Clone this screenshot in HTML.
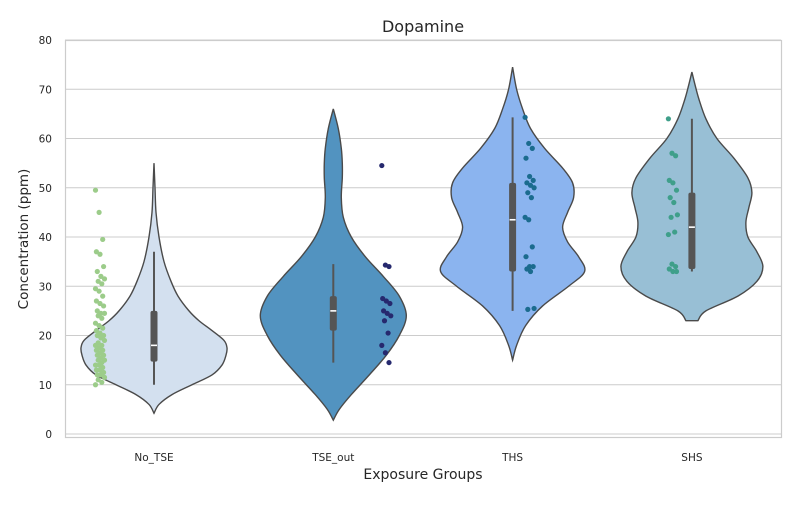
<!DOCTYPE html>
<html><head><meta charset="utf-8">
<style>
body{margin:0;background:#fff;font-family:"Liberation Sans","DejaVu Sans",sans-serif;}
svg text{font-family:"DejaVu Sans","Liberation Sans",sans-serif;}
</style></head>
<body>
<svg id="chart" width="800" height="500" viewBox="0 0 800 500" xmlns="http://www.w3.org/2000/svg">
<rect x="0" y="0" width="800" height="500" fill="#fff"/>
<g id="grid"></g>
<g id="violins"></g>
<rect x="65.5" y="40.5" width="716" height="397" fill="none" stroke="#cccccc" stroke-width="1.2"/>
<g id="yticks"></g>
<g id="xticks"></g>
<text x="423" y="32" font-size="16" text-anchor="middle" fill="#262626">Dopamine</text>
<text x="423" y="479" font-size="14" text-anchor="middle" fill="#262626">Exposure Groups</text>
<text x="28" y="239" font-size="13.5" text-anchor="middle" fill="#262626" transform="rotate(-90 28 239)">Concentration (ppm)</text>
</svg>
<script>
const categories = ["No_TSE","TSE_out","THS","SHS"];
const yTicks = [0,10,20,30,40,50,60,70,80];
const fills = ["#d3e0ef","#5293c0","#8bb4ef","#98bfd5"];
const pointColors = ["#9ccc8a","#26296e","#1b6b8e","#3f9f8a"];
// violin density profiles: [value, half-width]
const profNoTSE = [[4.2,0],[6,5],[8,18],[10,38],[12,58],[14,68],[16,72],[17.5,73],[19,70],[21,58],[23,45],[25,35],[28,24],[31,17],[35,10],[40,5],[45,2],[50,1],[55,0]];
const profTSE = [[2.8,0],[5,6],[8,18],[12,36],[16,53],[20,66],[24,73],[28,66],[32,50],[36,32],[40,18],[44,10],[48,8],[52,9],[55,9],[58,8],[62,5],[66,0]];
const profTHS = [[15,0],[18,4],[22,13],[26,30],[30,56],[33,72],[36,66],[39,55],[42,50],[45,55],[48,61],[51,60],[54,50],[58,32],[62,18],[66,10],[70,4],[74.5,0]];
const profSHS = [[23,6],[25,14],[28,46],[31,65],[34,71],[37,65],[40,56],[43,54],[46,57],[49,60],[52,56],[56,42],[60,25],[64,14],[68,7],[71,3],[73.5,0]];
const profiles = [profNoTSE,profTSE,profTHS,profSHS];
// box stats: whiskerLow, q1, median, q3, whiskerHigh
const boxNoTSE = [10,14.7,18,25,37];
const boxTSE = [14.5,21,25,28,34.5];
const boxTHS = [25,33,43.5,51,64.3];
const boxSHS = [33,33.5,42,49,64];
const boxes = [boxNoTSE,boxTSE,boxTHS,boxSHS];
const ptsNoTSE = [49.5,45,39.5,37,36.5,34,33,32,31.5,31,30.5,29.5,29,28,27,26.5,26,25,24.5,24.5,24,23.5,22.5,22,21.5,21,20.5,20,20,19.5,19,18.5,18,18,17.5,17,17,16.5,16,16,15.5,15,15,14.5,14,14,13.5,13,13,12.5,12,12,11.5,11,10.5,10];
const ptsTSE = [54.5,34.3,34,27.5,27,26.5,25,24.5,24,23,20.5,18,16.5,14.5];
const ptsTHS = [64.3,59,58,56,52.3,51.5,51,50.5,50,49,48,44,43.5,38,36,34,34,33.5,33,25.5,25.3];
const ptsSHS = [64,57,56.5,51.5,51,49.5,48,47,44.5,44,41,40.5,34.5,34,33.5,33,33];
const points = [ptsNoTSE,ptsTSE,ptsTHS,ptsSHS];

const NS="http://www.w3.org/2000/svg";
const yS = v => 434 - v*4.925;
const xS = i => 154 + i*179.3;
const ptOffset = [-54,53,17,-19];
function mk(tag,attrs,parent){const e=document.createElementNS(NS,tag);for(const k in attrs)e.setAttribute(k,attrs[k]);parent.appendChild(e);return e;}

const grid=document.getElementById('grid'), yt=document.getElementById('yticks'), xt=document.getElementById('xticks'), vg=document.getElementById('violins');
yTicks.forEach(t=>{
  const l=mk('line',{x1:65,x2:781,y1:yS(t),y2:yS(t),stroke:'#cccccc','stroke-width':1.1},grid);
  
  
  const tx=mk('text',{x:52,y:yS(t)+4,'font-size':10.5,'text-anchor':'end',fill:'#262626'},yt);
  tx.textContent=t;
  
  
});
categories.forEach((c,i)=>{
  const tx=mk('text',{x:xS(i),y:461,'font-size':10.5,'text-anchor':'middle',fill:'#262626'},xt);
  tx.textContent=c;
  
  
});
function smooth(pts){
  let d='M'+pts[0][0]+','+pts[0][1];
  for(let i=0;i<pts.length-1;i++){
    const p0=pts[Math.max(0,i-1)],p1=pts[i],p2=pts[i+1],p3=pts[Math.min(pts.length-1,i+2)];
    const c1=[p1[0]+(p2[0]-p0[0])/6,p1[1]+(p2[1]-p0[1])/6];
    const c2=[p2[0]-(p3[0]-p1[0])/6,p2[1]-(p3[1]-p1[1])/6];
    d+=' C'+c1[0]+','+c1[1]+' '+c2[0]+','+c2[1]+' '+p2[0]+','+p2[1];
  }
  return d;
}
categories.forEach((c,i)=>{
  const cx=xS(i), prof=profiles[i];
  const right=prof.map(p=>[cx+p[1],yS(p[0])]);
  const left=prof.slice().reverse().map(p=>[cx-p[1],yS(p[0])]);
  let d=smooth(right)+' L'+left[0][0]+','+left[0][1]+smooth(left).replace(/^M[^ C]+/,'')+' Z';
  const g=mk('g',{},vg);
  
  
  const p=mk('path',{d:d,fill:fills[i],stroke:'#4a4a4a','stroke-width':1.4},g);
  
  
  const b=boxes[i];
  const w=mk('line',{x1:cx,x2:cx,y1:yS(b[0]),y2:yS(b[4]),stroke:'#555','stroke-width':2},g);
  
  
  const bx=mk('rect',{x:cx-3.5,y:yS(b[3]),width:7,height:yS(b[1])-yS(b[3]),rx:2,fill:'#555'},g);
  
  
  const m=mk('line',{x1:cx-3,x2:cx+3,y1:yS(b[2]),y2:yS(b[2]),stroke:'#fff','stroke-width':1.6},g);
  
  
  points[i].forEach((v,k)=>{
    const jit=((k*37)%11-5)*0.9;
    const pt=mk('circle',{cx:cx+ptOffset[i]+jit,cy:yS(v),r:2.6,fill:pointColors[i]},g);
    
    
  });
});
</script>
</body></html>
